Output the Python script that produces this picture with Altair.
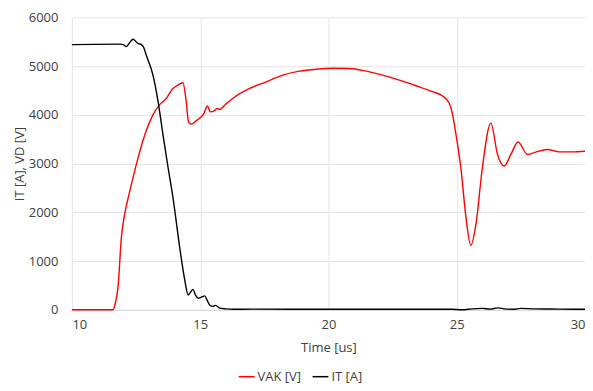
import altair as alt
import pandas as pd

vak_t = [10, 11.5, 11.6, 11.7, 11.8, 11.93, 12.06, 12.26, 12.58, 12.85, 13.16, 13.42, 13.68, 13.93,
         14.1, 14.33, 14.45, 14.55, 14.66, 14.85, 15.0, 15.15, 15.28, 15.4, 15.55, 15.65, 15.76,
         16.0, 16.28, 16.93, 17.58, 18.22, 18.87, 19.52, 20.17, 20.82, 21.47, 22.11, 22.76, 23.41,
         24.06, 24.45, 24.71, 24.84, 24.97, 25.16, 25.36, 25.55, 25.75, 26.0, 26.33, 26.59, 26.85,
         27.11, 27.39, 27.76, 28.08, 28.53, 28.99, 29.5, 30]
vak_v = [0, 0, 0, 150, 475, 1490, 1967, 2440, 3118, 3600, 4000, 4210, 4338, 4535,
         4600, 4657, 4300, 3850, 3810, 3880, 3940, 4030, 4180, 4060, 4080, 4130, 4110,
         4220, 4340, 4540, 4677, 4813, 4895, 4936, 4956, 4950, 4895, 4813, 4711, 4596,
         4474, 4386, 4237, 4000, 3600, 2914, 1897, 1322, 1763, 2914, 3830, 3187, 2950,
         3187, 3443, 3187, 3234, 3289, 3240, 3240, 3254]

it_t = [10, 11.9, 12.0, 12.12, 12.25, 12.39, 12.5, 12.6, 12.71, 12.8, 12.9, 13.16, 13.36, 13.55,
        13.75, 13.94, 14.2, 14.4, 14.53, 14.62, 14.72, 14.82, 14.92, 15.05, 15.18, 15.27, 15.37,
        15.5, 15.6, 15.76, 16.0, 16.3, 17.0, 20.0, 24.8, 25.2, 25.6, 26.0, 26.3, 26.6, 26.85,
        27.2, 27.5, 28.0, 29.0, 30.0]
it_v = [5440, 5450, 5440, 5400, 5480, 5550, 5500, 5460, 5440, 5380, 5220, 4814, 4270, 3594,
        2914, 2304, 1288, 610, 305, 360, 420, 300, 237, 260, 285, 200, 100,
        70, 90, 35, 20, 10, 15, 10, 10, 0, 20, 30, 15, 40, 20,
        10, 30, 20, 15, 10]

series_names = ["VAK [V]", "IT [A]"]
series_colors = ["#ff0000", "#000000"]

df = pd.concat([
    pd.DataFrame({"t": vak_t, "v": vak_v, "s": series_names[0]}),
    pd.DataFrame({"t": it_t, "v": it_v, "s": series_names[1]}),
])

FONT = "Open Sans"

chart = alt.Chart(df).mark_line(strokeWidth=1.4, interpolate="monotone").encode(
    x=alt.X("t:Q", title="Time [us]",
            scale=alt.Scale(domain=[10, 30], nice=False),
            axis=alt.Axis(values=[10, 15, 20, 25, 30], grid=True, gridColor="#e6e6e6",
                          domainColor="#d9d9d9", ticks=False, labelPadding=9,
                          labelFontSize=13, labelColor="#404040", titleFontSize=13,
                          titleColor="#404040", titleFontWeight="normal", titlePadding=10,
                          labelFont=FONT, titleFont=FONT)),
    y=alt.Y("v:Q", title="IT [A], VD [V]",
            scale=alt.Scale(domain=[0, 6000], nice=False),
            axis=alt.Axis(values=[0, 1000, 2000, 3000, 4000, 5000, 6000], format="d",
                          grid=True, gridColor="#e6e6e6", domain=False, ticks=False,
                          labelPadding=14, labelFontSize=13, labelColor="#404040",
                          titleFontSize=13, titleColor="#404040", titleFontWeight="normal",
                          titlePadding=2, labelFont=FONT, titleFont=FONT)),
    color=alt.Color("s:N", sort=series_names,
                    scale=alt.Scale(domain=series_names, range=series_colors),
                    legend=alt.Legend(title=None, orient="none", legendX=166, legendY=351,
                                      direction="horizontal", symbolType="stroke",
                                      symbolStrokeWidth=1.5, symbolSize=250,
                                      labelFontSize=13, labelColor="#404040", labelFont=FONT,
                                      columnPadding=8, symbolOffset=0, labelOffset=2)),
).properties(
    width=514, height=293,
    autosize=alt.AutoSizeParams(type="none"),
    padding={"left": 64, "top": 9, "right": 0, "bottom": 80},
).configure_view(stroke=None)

chart.save("out.html", embed_options={"renderer": "svg", "actions": False})
